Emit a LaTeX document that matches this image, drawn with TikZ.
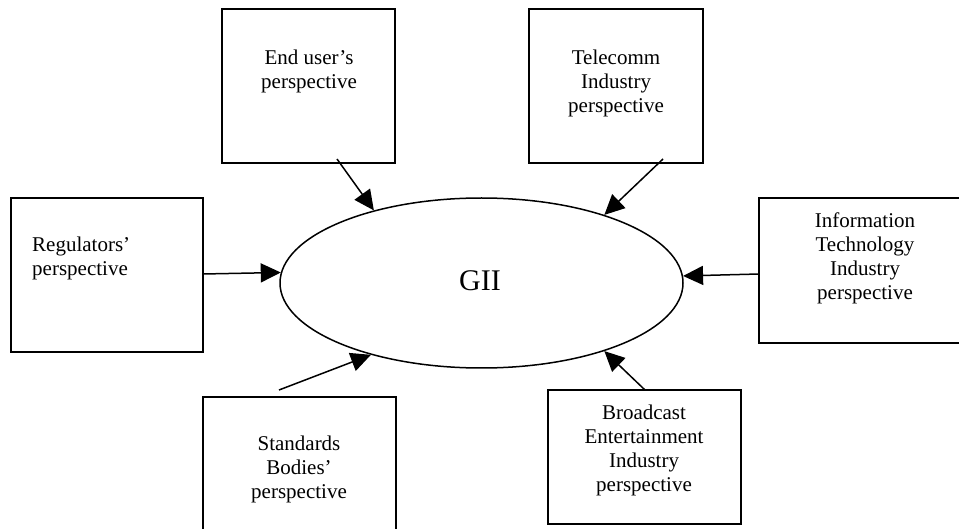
\documentclass[tikz,border=0pt]{standalone}
\usepackage{fontspec}
\setmainfont{Liberation Serif}
\usetikzlibrary{arrows.meta,shapes.geometric}
\tikzset{
  persp/.style={draw, line width=1.6pt, rectangle, inner sep=0pt},
  label text/.style={align=center, font=\fontsize{21}{24}\selectfont, inner sep=0pt},
  hub/.style={draw, line width=1.5pt, ellipse, inner sep=0pt,
    minimum width=403pt, minimum height=170pt},
  feed/.style={line width=1.5pt, -{Triangle[length=20pt,width=19pt]}}
}
\begin{document}
\begin{tikzpicture}[x=1pt, y=-1pt]
  \useasboundingbox (0,0) rectangle (959,529);
  \clip (0,0) rectangle (959,529);

  % central hub
  \node[hub] (gii) at (481.5,283) {};
  \node[font=\fontsize{30}{34}\selectfont, inner sep=0pt] (giitext) at (480,281) {GII};

  % perspective boxes
  \node[persp, minimum width=173pt, minimum height=154pt] (enduser) at (308.5,86) {};
  \node[label text] (endusertext) at (309,71) {End user’s\\perspective};

  \node[persp, minimum width=174pt, minimum height=154pt] (telecomm) at (616,86) {};
  \node[label text] (telecommtext) at (616,83) {Telecomm\\Industry\\perspective};

  \node[persp, minimum width=192pt, minimum height=154pt] (regulators) at (107,275) {};
  \node[label text, align=left, anchor=west] (regulatorstext) at (32,258) {Regulators’\\perspective};

  \node[persp, minimum width=206pt, minimum height=145pt] (infotech) at (862,270.5) {};
  \node[label text] (infotechtext) at (865,258.5) {Information\\Technology\\Industry\\perspective};

  \node[persp, minimum width=193pt, minimum height=150pt] (standards) at (299.5,472) {};
  \node[label text] (standardstext) at (299,469) {Standards\\Bodies’\\perspective};

  \node[persp, minimum width=193pt, minimum height=134pt] (broadcast) at (644.5,457) {};
  \node[label text] (broadcasttext) at (644,450) {Broadcast\\Entertainment\\Industry\\perspective};

  % arrow start points on the boxes
  \coordinate (eu-out) at (337,159);
  \coordinate (tc-out) at (663,159);
  \coordinate (rg-out) at (203,274);
  \coordinate (it-out) at (759,274);
  \coordinate (sb-out) at (279,390);
  \coordinate (bc-out) at (645,390);

  % connectors into the hub
  \draw[feed] (eu-out) -- (gii.146.4);
  \draw[feed] (tc-out) -- (gii.29.5);
  \draw[feed] (rg-out) -- (gii.177.4);
  \draw[feed] (it-out) -- (gii.2.6);
  \draw[feed] (sb-out) -- (gii.213.3);
  \draw[feed] (bc-out) -- (gii.331.8);
\end{tikzpicture}
\end{document}
